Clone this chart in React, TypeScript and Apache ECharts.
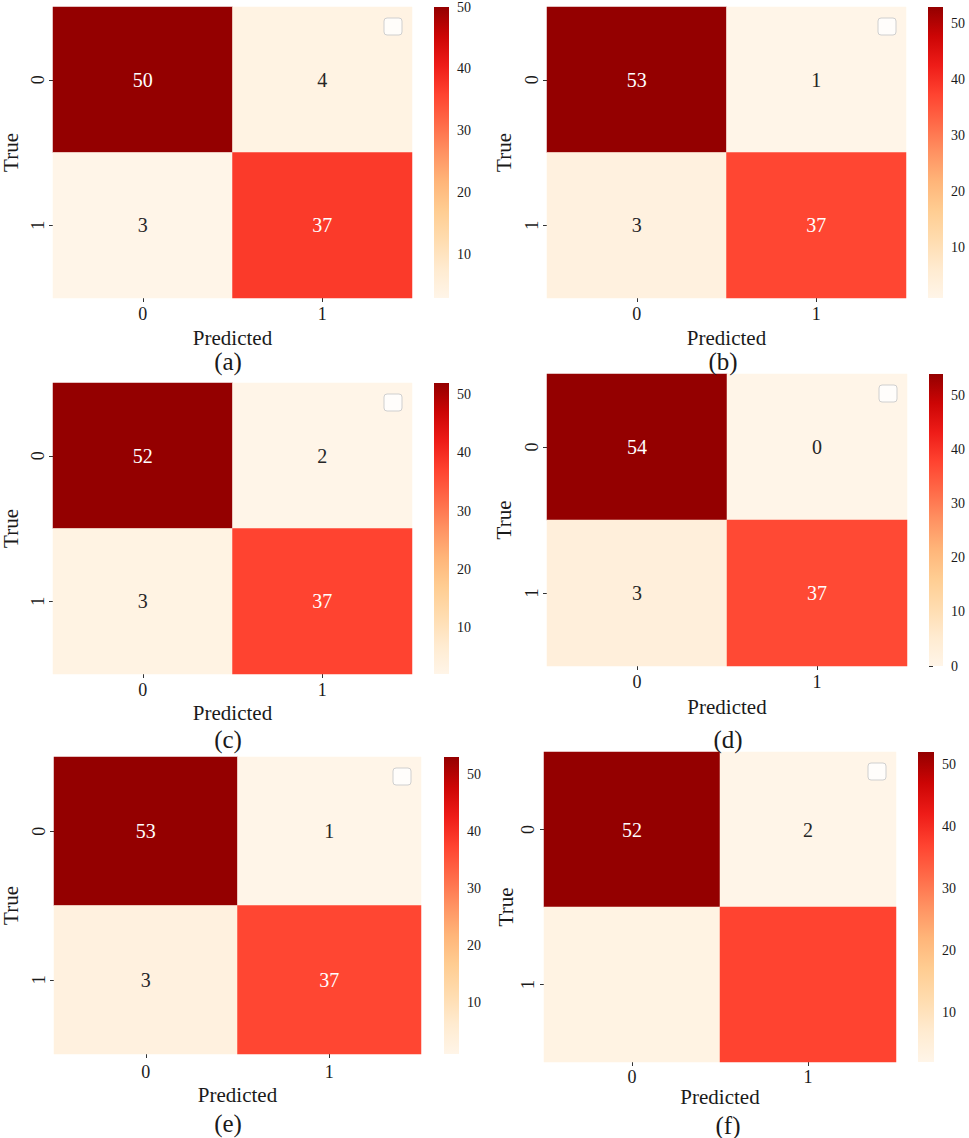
import React, { useEffect, useRef } from 'react';
import * as echarts from 'echarts';

// ---------- data ----------
const predictedCategories = ['0', '1'];
const trueCategories = ['0', '1'];
const panelTags = ['(a)', '(b)', '(c)', '(d)', '(e)', '(f)'];

// rows = True class, columns = Predicted class
const matrixA = [[50, 4], [3, 37]];
const matrixB = [[53, 1], [3, 37]];
const matrixC = [[52, 2], [3, 37]];
const matrixD = [[54, 0], [3, 37]];
const matrixE = [[53, 1], [3, 37]];
const matrixF = [[52, 2], [3, 37]];

const annotateAll = [[true, true], [true, true]];
const annotateF = [[true, true], [false, false]];

const colorbarTicks = [10, 20, 30, 40, 50];
const colorbarTicksD = [0, 10, 20, 30, 40, 50];

const cmapColors = [
  '#fff5e8', '#ffebd0', '#ffdcaf', '#ffcd92', '#ffb579',
  '#ff9262', '#ff6a48', '#ff4330', '#ee1c18', '#cc0505', '#940000',
];

// ---------- layout ----------
const FONT = 'Liberation Serif';
const TEXT = '#1a1a1a';

const layouts = [
  { left: 53, top: 7, width: 359, height: 291, cbLeft: 434, cbWidth: 15, tagX: 228, tagY: 361, xGap: 29, yGap: 32, xm: 7, ym: 6 },
  { left: 547, top: 7, width: 359, height: 291, cbLeft: 928, cbWidth: 15, tagX: 723, tagY: 361, xGap: 29, yGap: 33, xm: 7, ym: 6 },
  { left: 53, top: 383, width: 359, height: 291, cbLeft: 434, cbWidth: 15, tagX: 228, tagY: 739, xGap: 28, yGap: 32, xm: 7, ym: 6 },
  { left: 547, top: 374, width: 360, height: 292, cbLeft: 929, cbWidth: 14, tagX: 728, tagY: 739, xGap: 30, yGap: 33, xm: 7, ym: 6 },
  { left: 54, top: 757, width: 367, height: 297, cbLeft: 444, cbWidth: 15, tagX: 228, tagY: 1123, xGap: 30, yGap: 33, xm: 9, ym: 6 },
  { left: 544, top: 752, width: 352, height: 310, cbLeft: 918, cbWidth: 16, tagX: 728, tagY: 1125, xGap: 24, yGap: 28, xm: 6, ym: 7 },
];

const panels = [
  { tag: panelTags[0], matrix: matrixA, annotate: annotateAll, ticks: colorbarTicks },
  { tag: panelTags[1], matrix: matrixB, annotate: annotateAll, ticks: colorbarTicks },
  { tag: panelTags[2], matrix: matrixC, annotate: annotateAll, ticks: colorbarTicks },
  { tag: panelTags[3], matrix: matrixD, annotate: annotateAll, ticks: colorbarTicksD },
  { tag: panelTags[4], matrix: matrixE, annotate: annotateAll, ticks: colorbarTicks },
  { tag: panelTags[5], matrix: matrixF, annotate: annotateF, ticks: colorbarTicks },
];

function buildOption() {
  const grids: any[] = [];
  const xAxes: any[] = [];
  const yAxes: any[] = [];
  const heatSeries: any[] = [];
  const cbSeries: any[] = [];
  const visualMaps: any[] = [];
  const graphics: any[] = [];
  const stops = cmapColors.map((c, k) => ({ offset: k / (cmapColors.length - 1), color: c }));

  const cbGrids: any[] = [];
  const cbX: any[] = [];
  const cbY: any[] = [];

  panels.forEach((p, i) => {
    const L = layouts[i];
    const flat = p.matrix.flat();
    const vmin = Math.min(...flat);
    const vmax = Math.max(...flat);

    grids.push({ left: L.left, top: L.top, width: L.width, height: L.height, containLabel: false, outerBoundsMode: 'none' });
    cbGrids.push({ left: L.cbLeft, top: L.top, width: L.cbWidth, height: L.height, containLabel: false, outerBoundsMode: 'none' });

    xAxes.push({
      gridIndex: i,
      type: 'category',
      data: predictedCategories,
      name: 'Predicted',
      nameLocation: 'middle',
      nameGap: L.xGap,
      nameMoveOverlap: false,
      nameTextStyle: { fontFamily: FONT, fontSize: 21, color: TEXT },
      axisLine: { show: false },
      axisTick: { show: true, alignWithLabel: true, length: 4, lineStyle: { color: '#333', width: 1 } },
      axisLabel: { fontFamily: FONT, fontSize: 18, color: TEXT, margin: L.xm },
      splitLine: { show: false },
      splitArea: { show: false },
    });
    yAxes.push({
      gridIndex: i,
      type: 'category',
      data: trueCategories,
      inverse: true,
      name: 'True',
      nameLocation: 'middle',
      nameGap: L.yGap,
      nameRotate: 90,
      nameMoveOverlap: false,
      nameTextStyle: { fontFamily: FONT, fontSize: 21, color: TEXT },
      axisLine: { show: false },
      axisTick: { show: true, alignWithLabel: true, length: 4, lineStyle: { color: '#333', width: 1 } },
      axisLabel: { fontFamily: FONT, fontSize: 18, color: TEXT, margin: L.ym, rotate: 90 },
      splitLine: { show: false },
      splitArea: { show: false },
    });

    cbX.push({ gridIndex: 6 + i, type: 'value', min: 0, max: 1, show: false });
    cbY.push({
      gridIndex: 6 + i,
      type: 'value',
      min: vmin,
      max: vmax,
      position: 'right',
      axisLine: { show: false },
      axisTick: { show: true, length: 4, customValues: p.ticks, lineStyle: { color: '#333', width: 1 } },
      axisLabel: { show: true, customValues: p.ticks, fontFamily: FONT, fontSize: 14, color: TEXT, margin: 8 },
      splitLine: { show: false },
    });

    visualMaps.push({
      type: 'continuous',
      show: false,
      seriesIndex: i,
      dimension: 2,
      min: vmin,
      max: vmax,
      inRange: { color: cmapColors },
    });

    const items: any[] = [];
    p.matrix.forEach((row, r) => {
      row.forEach((v, c) => {
        const t = (v - vmin) / (vmax - vmin);
        items.push({
          value: [c, r, v],
          label: { show: p.annotate[r][c], color: t > 0.5 ? '#ffffff' : '#262626', fontFamily: FONT },
        });
      });
    });
    heatSeries.push({
      type: 'heatmap',
      xAxisIndex: i,
      yAxisIndex: i,
      data: items,
      label: { show: true, fontFamily: FONT, fontSize: 20, formatter: (prm: any) => String(prm.value[2]) },
      emphasis: { disabled: true },
      silent: true,
    });

    cbSeries.push({
      type: 'custom',
      xAxisIndex: 6 + i,
      yAxisIndex: 6 + i,
      silent: true,
      data: [[0, 1, vmin, vmax]],
      encode: { x: [0, 1], y: [2, 3] },
      renderItem: (_params: any, api: any) => {
        const p0 = api.coord([api.value(0), api.value(2)]);
        const p1 = api.coord([api.value(1), api.value(3)]);
        return {
          type: 'rect',
          shape: { x: p0[0], y: p1[1], width: p1[0] - p0[0], height: p0[1] - p1[1] },
          style: { fill: new echarts.graphic.LinearGradient(0, 1, 0, 0, stops) },
        };
      },
    });

    graphics.push({
      type: 'rect',
      silent: true,
      shape: { x: L.left + L.width - 10 - 18, y: L.top + 11, width: 18, height: 17, r: 3 },
      style: { fill: 'rgba(255,255,255,0.8)', stroke: '#cfcfcf', lineWidth: 1 },
      z: 100,
    });
    graphics.push({
      type: 'text',
      silent: true,
      x: L.tagX,
      y: L.tagY,
      style: {
        text: p.tag,
        fontFamily: FONT,
        fontSize: 25,
        fill: TEXT,
        align: 'center',
        verticalAlign: 'middle',
        textAlign: 'center',
        textVerticalAlign: 'middle',
      },
      z: 100,
    });
  });

  return {
    animation: false,
    backgroundColor: '#ffffff',
    textStyle: { fontFamily: FONT, color: TEXT },
    grid: [...grids, ...cbGrids],
    xAxis: [...xAxes, ...cbX],
    yAxis: [...yAxes, ...cbY],
    visualMap: visualMaps,
    series: [...heatSeries, ...cbSeries],
    graphic: { elements: graphics },
  };
}

export default function App() {
  const ref = useRef<HTMLDivElement>(null);
  useEffect(() => {
    document.body.style.margin = '0';
    const chart = echarts.init(ref.current as HTMLDivElement, null, { renderer: 'svg' });
    chart.setOption(buildOption() as any);
    return () => chart.dispose();
  }, []);
  return <div ref={ref} style={{ width: 969, height: 1138 }} />;
}
